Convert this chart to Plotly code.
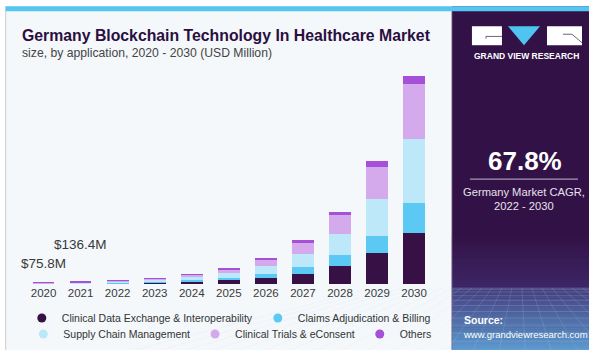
import plotly.graph_objects as go

years = ["2020", "2021", "2022", "2023", "2024", "2025", "2026", "2027", "2028", "2029", "2030"]
clinical_data = [19.0, 34.1, 57, 96, 161, 260, 416, 680, 1188, 2026, 3386]
claims = [11.0, 19.8, 33, 56, 93, 150, 264, 462, 706, 1142, 1980]
supply_chain = [22.7, 40.9, 69, 115, 193, 310, 508, 858, 1432, 2422, 4178]
clinical_trials = [19.7, 35.5, 60, 100, 167, 270, 396, 726, 1234, 2158, 3696]
others = [3.4, 6.1, 10, 17, 30, 50, 132, 152, 218, 376, 528]

series_names = ["Clinical Data Exchange & Interoperability", "Claims Adjudication & Billing",
                "Supply Chain Management", "Clinical Trials & eConsent", "Others"]
series_values = [clinical_data, claims, supply_chain, clinical_trials, others]
series_colors = ["#371046", "#5CC9F5", "#BDE8F9", "#D5AAEC", "#A650D9"]

label_years = ["2020", "2021"]
label_texts = ["$75.8M", "$136.4M"]
label_shift = [10, 28]

W, H = 589, 352
STEP = 37.04            # pixel width of one category slot
L, R, T, B = 25.3, 14, 71.8, 68
PW, PH = W - L - R, H - T - B
XMAX = -0.5 + PW / STEP

def px(x):
    return (x - L) / PW

def py(y):
    return (H - B - y) / PH

SANS = "Liberation Sans, Arial, sans-serif"

fig = go.Figure()
for name, vals, col in zip(series_names, series_values, series_colors):
    fig.add_trace(go.Bar(x=years, y=vals, name=name, marker=dict(color=col, line=dict(width=0)),
                         showlegend=False))

for i, (name, col) in enumerate(zip(series_names, series_colors)):
    fig.add_trace(go.Scatter(x=[years[0]], y=[None], mode="markers", name=name,
                             marker=dict(color=col, size=9, symbol="circle"),
                             legend="legend" if i < 2 else "legend2"))

totals = [sum(v) for v in zip(*series_values)]
annotations = []
for yr, txt, sh in zip(label_years, label_texts, label_shift):
    idx = years.index(yr)
    annotations.append(dict(x=idx, y=totals[idx], xref="x", yref="y", text=txt,
                            showarrow=False, yanchor="bottom", yshift=sh,
                            font=dict(family=SANS, size=13.5, color="#3a3a3a")))

annotations += [
    dict(x=px(20), y=py(35), xref="paper", yref="paper", xanchor="left", yanchor="middle",
         text="<b>Germany Blockchain Technology In Healthcare Market</b>", showarrow=False,
         font=dict(family=SANS, size=15.8, color="#2B0E40")),
    dict(x=px(20), y=py(52.5), xref="paper", yref="paper", xanchor="left", yanchor="middle",
         text="size, by application, 2020 - 2030 (USD Million)", showarrow=False,
         font=dict(family=SANS, size=12.2, color="#444444")),
    dict(x=px(527), y=py(55.5), xref="paper", yref="paper", xanchor="center", yanchor="middle",
         text="<b>GRAND VIEW RESEARCH</b>", showarrow=False,
         font=dict(family=SANS, size=8.5, color="#FFFFFF")),
    dict(x=px(525), y=py(161), xref="paper", yref="paper", xanchor="center", yanchor="middle",
         text="<b>67.8%</b>", showarrow=False,
         font=dict(family=SANS, size=26, color="#FFFFFF")),
    dict(x=px(524), y=py(192), xref="paper", yref="paper", xanchor="center", yanchor="middle",
         text="Germany Market CAGR,", showarrow=False,
         font=dict(family=SANS, size=11.2, color="#E6E1EC")),
    dict(x=px(524), y=py(205.5), xref="paper", yref="paper", xanchor="center", yanchor="middle",
         text="2022 - 2030", showarrow=False,
         font=dict(family=SANS, size=11.2, color="#E6E1EC")),
    dict(x=px(462), y=py(320), xref="paper", yref="paper", xanchor="left", yanchor="middle",
         text="<b>Source:</b>", showarrow=False,
         font=dict(family=SANS, size=10.5, color="#FFFFFF")),
    dict(x=px(461), y=py(334.5), xref="paper", yref="paper", xanchor="left", yanchor="middle",
         text="www.grandviewresearch.com", showarrow=False,
         font=dict(family=SANS, size=9.5, color="#FFFFFF")),
]

def rect(x0, y0, x1, y1, color, layer="below"):
    return dict(type="rect", xref="paper", yref="paper", x0=px(x0), x1=px(x1), y0=py(y0), y1=py(y1),
                fillcolor=color, line=dict(width=0), layer=layer)

def line(x0, y0, x1, y1, color, width=1, layer="above"):
    return dict(type="line", xref="paper", yref="paper", x0=px(x0), x1=px(x1), y0=py(y0), y1=py(y1),
                line=dict(color=color, width=width), layer=layer)

def hexc(c):
    return tuple(int(c[i:i + 2], 16) for i in (1, 3, 5))

def mix(c1, c2, f):
    a, b = hexc(c1), hexc(c2)
    return "#%02x%02x%02x" % tuple(round(a[i] + (b[i] - a[i]) * f) for i in range(3))

shapes = [
    rect(6, 6, 452, 350, "#F4F8FB"),
    line(6, 6, 6, 350, "#C9CDD1", 1, "below"),
    rect(452, 6, 589, 350, "#321246"),
]
n = 30
top, mid, bot = 235, 288, 350
for i in range(n):
    y0 = top + (mid - top) * i / n
    y1 = top + (mid - top) * (i + 1) / n
    shapes.append(rect(452, y0, 589, y1 + 0.5, mix("#321246", "#3D2767", i / n)))
for i in range(n):
    y0 = mid + (bot - mid) * i / n
    y1 = mid + (bot - mid) * (i + 1) / n
    shapes.append(rect(452, y0, 589, y1 + 0.5, mix("#45407F", "#5C9BD0", i / n)))
for i in range(12):
    yy = mid + (bot - mid) * (i / 11) ** 1.6
    shapes.append(line(452, yy, 589, yy, "rgba(200,215,245,0.28)", 0.7, "below"))
for i in range(-8, 16):
    xt = 452 + i * 10
    xb = 520 + (xt - 520) * 2.6
    shapes.append(line(xt, mid, xb, bot, "rgba(200,215,245,0.22)", 0.7, "below"))
shapes.append(rect(589, 0, 640, 352, "#FFFFFF"))
shapes.append(rect(0, 350, 640, 360, "#FFFFFF"))
shapes.append(rect(6, 6, 589, 11, "#55C6F2"))
shapes.append(line(452, 11, 452, 350, "#7A6A90", 0.8, "below"))
shapes += [
    rect(472, 26, 502, 45, "#FFFFFF", "above"),
    line(486, 36.2, 502, 36.2, "#6F6480", 1),
    line(486, 36.2, 486, 38.5, "#6F6480", 1),
    dict(type="path", xref="paper", yref="paper",
         path="M %f,%f L %f,%f L %f,%f Z" % (px(508), py(26), px(540), py(26), px(524), py(45)),
         fillcolor="#4FC4F1", line=dict(width=0), layer="above"),
    rect(547, 26, 582, 45, "#FFFFFF", "above"),
    dict(type="path", xref="paper", yref="paper",
         path="M %f,%f L %f,%f L %f,%f" % (px(563), py(34), px(572), py(34), px(582), py(42.5)),
         line=dict(color="#6F6480", width=1), layer="above"),
    line(470, 179, 578, 179, "#A497B3", 1.2),
]

leg_font = dict(family=SANS, size=10.5, color="#333333")
fig.update_layout(
    width=W, height=H,
    margin=dict(l=L, r=R, t=T, b=B, autoexpand=False),
    paper_bgcolor="#FFFFFF", plot_bgcolor="rgba(0,0,0,0)",
    barmode="stack", bargap=0.414,
    xaxis=dict(type="category", categoryorder="array", categoryarray=years,
               range=[-0.5, XMAX], showgrid=False, zeroline=False, showline=False, ticks="",
               tickfont=dict(family=SANS, size=11.5, color="#3a3a3a"), fixedrange=True),
    yaxis=dict(range=[0, 14000], visible=False, fixedrange=True),
    legend=dict(orientation="h", x=px(229), xanchor="center", y=py(318), yanchor="middle",
                bgcolor="rgba(0,0,0,0)", font=leg_font, itemwidth=30, tracegroupgap=0,
                traceorder="normal"),
    legend2=dict(orientation="h", x=px(230), xanchor="center", y=py(334), yanchor="middle",
                 bgcolor="rgba(0,0,0,0)", font=leg_font, itemwidth=30, tracegroupgap=0,
                 traceorder="normal"),
    annotations=annotations, shapes=shapes,
    showlegend=True,
)

fig.write_html("out.html")
